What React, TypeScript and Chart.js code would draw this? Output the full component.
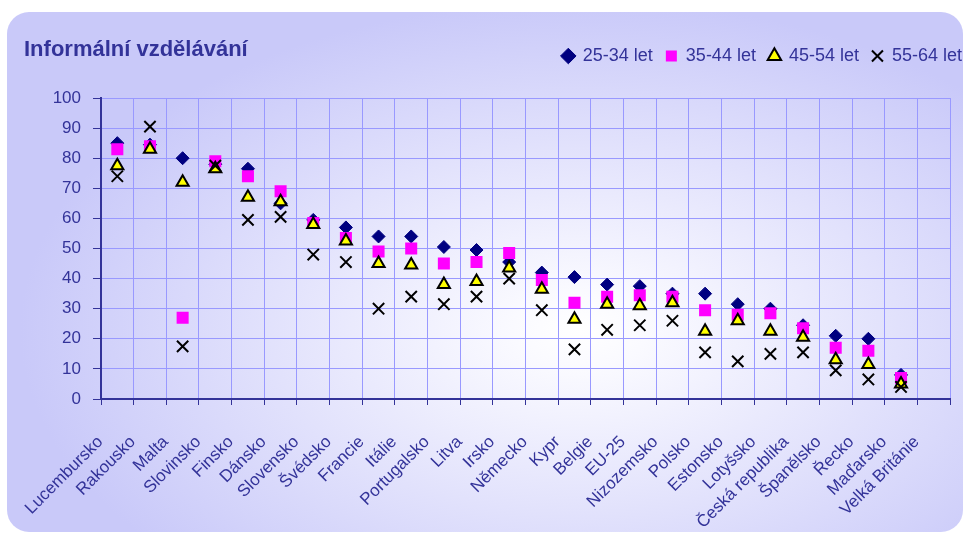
import React, { useEffect, useRef } from 'react';
import { Chart, registerables } from 'chart.js';

Chart.register(...registerables);

const categories = [
  'Lucembursko', 'Rakousko', 'Malta', 'Slovinsko', 'Finsko', 'Dánsko', 'Slovensko', 'Švédsko',
  'Francie', 'Itálie', 'Portugalsko', 'Litva', 'Irsko', 'Německo', 'Kypr', 'Belgie', 'EU-25',
  'Nizozemsko', 'Polsko', 'Estonsko', 'Lotyšsko', 'Česká republika', 'Španělsko', 'Řecko',
  'Maďarsko', 'Velká Británie',
];

const age2534 = [85, 84.5, 80, 78, 76.5, 65, 59.5, 57, 54, 54, 50.5, 49.5, 45.5, 42, 40.5, 38, 37.5, 35, 35, 31.5, 30, 24.5, 21, 20, 8, null];
const age3544 = [83, 84, 27, 79, 74, 69, 58.5, 53.5, 49, 50, 45, 45.5, 48.5, 39.5, 32, 34, 34.5, 34, 29.5, 28, 28.5, 23.5, 17, 16, 7, null];
const age4554 = [77.5, 83, 72, 76.5, 67, 65.5, 58, 52.5, 45, 44.5, 38, 39, 43.5, 36.5, 26.5, 31.5, 31, 32, 22.5, 26, 22.5, 20.5, 13, 11.5, 5, null];
const age5564 = [74, 90.5, 17.5, 77.5, 59.5, 60.5, 48, 45.5, 30, 34, 31.5, 34, 40, 29.5, 16.5, 23, 24.5, 26, 15.5, 12.5, 15, 15.5, 9.5, 6.5, 4, null];

const seriesNames = ['25-34 let', '35-44 let', '45-54 let', '55-64 let'];
const titleText = 'Informální vzdělávání';

const TEXT = '#333399';
const FONT = "'Liberation Sans', Arial, sans-serif";

const bgPlugin = {
  id: 'bgPlugin',
  beforeDraw(chart: any) {
    const { ctx, width, height } = chart;
    ctx.save();
    ctx.fillStyle = '#ffffff';
    ctx.fillRect(0, 0, width, height);
    const x0 = 7, y0 = 12, x1 = 963, y1 = 532, r = 22;
    ctx.beginPath();
    ctx.moveTo(x0 + r, y0);
    ctx.lineTo(x1 - r, y0);
    ctx.arcTo(x1, y0, x1, y0 + r, r);
    ctx.lineTo(x1, y1 - r);
    ctx.arcTo(x1, y1, x1 - r, y1, r);
    ctx.lineTo(x0 + r, y1);
    ctx.arcTo(x0, y1, x0, y1 - r, r);
    ctx.lineTo(x0, y0 + r);
    ctx.arcTo(x0, y0, x0 + r, y0, r);
    ctx.closePath();
    const cx = 580, cy = 330, rx = 560, ry = 330;
    ctx.translate(cx, cy);
    ctx.scale(1, ry / rx);
    const g = ctx.createRadialGradient(0, 0, 0, 0, 0, rx);
    g.addColorStop(0, '#ffffff');
    g.addColorStop(0.12, '#fafaff');
    g.addColorStop(1, '#c9c9f9');
    ctx.fillStyle = g;
    ctx.fill();
    ctx.restore();
  },
};

const legendShift = {
  id: 'legendShift',
  afterLayout(chart: any) {
    const lg = chart.legend;
    if (!lg) return;
    const dy = -23;
    const dx = 25;
    lg.top += dy;
    lg.bottom += dy;
    lg.left += dx;
    lg.right += dx;
  },
};

export default function App() {
  const ref = useRef<HTMLCanvasElement | null>(null);

  useEffect(() => {
    if (!ref.current) return;
    const chart = new Chart(ref.current, {
      type: 'line',
      data: {
        labels: categories,
        datasets: [
          {
            label: seriesNames[0],
            data: age2534,
            showLine: false,
            pointStyle: 'rectRot',
            pointRadius: 6.5,
            pointBackgroundColor: '#000080',
            pointBorderColor: '#000080',
            backgroundColor: '#000080',
            borderColor: '#000080',
            pointBorderWidth: 1,
            order: 4,
          },
          {
            label: seriesNames[1],
            data: age3544,
            showLine: false,
            pointStyle: 'rect',
            pointRadius: 8.5,
            pointBackgroundColor: '#ff00ff',
            pointBorderColor: '#ff00ff',
            backgroundColor: '#ff00ff',
            borderColor: '#ff00ff',
            pointBorderWidth: 0,
            order: 3,
          },
          {
            label: seriesNames[2],
            data: age4554,
            showLine: false,
            pointStyle: 'triangle',
            pointRadius: 7,
            pointBackgroundColor: '#ffff00',
            pointBorderColor: '#000000',
            backgroundColor: '#ffff00',
            borderColor: '#000000',
            pointBorderWidth: 2,
            order: 2,
          },
          {
            label: seriesNames[3],
            data: age5564,
            showLine: false,
            pointStyle: 'crossRot',
            pointRadius: 8,
            pointBackgroundColor: '#000000',
            pointBorderColor: '#000000',
            backgroundColor: '#000000',
            borderColor: '#000000',
            pointBorderWidth: 2,
            order: 1,
          },
        ],
      },
      options: {
        animation: false,
        responsive: false,
        layout: { padding: { left: 24, right: 15, top: 0, bottom: 0 } },
        plugins: {
          title: {
            display: true,
            text: titleText,
            align: 'start',
            color: TEXT,
            font: { family: FONT, size: 22, weight: 'bold' },
            padding: { top: 37, bottom: -6.4 },
          },
          legend: {
            display: true,
            position: 'top',
            align: 'end',
            labels: {
              usePointStyle: true,
              boxWidth: 11,
              boxHeight: 11,
              padding: 13,
              color: TEXT,
              font: { family: FONT, size: 18 },
              sort: (a: any, b: any) => a.datasetIndex - b.datasetIndex,
            },
          },
          tooltip: { enabled: false },
        },
        scales: {
          x: {
            type: 'category',
            offset: true,
            afterFit: (s: any) => {
              s.height = 135;
              s.paddingRight = 0;
              s.paddingLeft = 0;
            },
            grid: {
              offset: true,
              color: '#9999ff',
              lineWidth: 1,
              tickColor: '#333399',
              tickLength: 6,
            },
            border: { color: '#333399', width: 2 },
            ticks: {
              autoSkip: false,
              minRotation: 45,
              maxRotation: 45,
              color: TEXT,
              padding: 27,
              labelOffset: -17,
              font: { family: FONT, size: 17 },
            },
          },
          y: {
            min: 0,
            max: 100,
            afterFit: (s: any) => { s.width = 77; },
            grid: {
              color: '#9999ff',
              lineWidth: 1,
              tickColor: '#333399',
              tickLength: 8,
            },
            border: { color: '#333399', width: 2 },
            ticks: {
              stepSize: 10,
              color: TEXT,
              padding: 12,
              font: { family: FONT, size: 17 },
            },
          },
        },
      },
      plugins: [bgPlugin, legendShift],
    } as any);
    return () => chart.destroy();
  }, []);

  return (
    <div style={{ position: 'absolute', left: 0, top: 0, width: 965, height: 534 }}>
      <canvas ref={ref} width={965} height={534} style={{ display: 'block', width: 965, height: 534 }} />
    </div>
  );
}
